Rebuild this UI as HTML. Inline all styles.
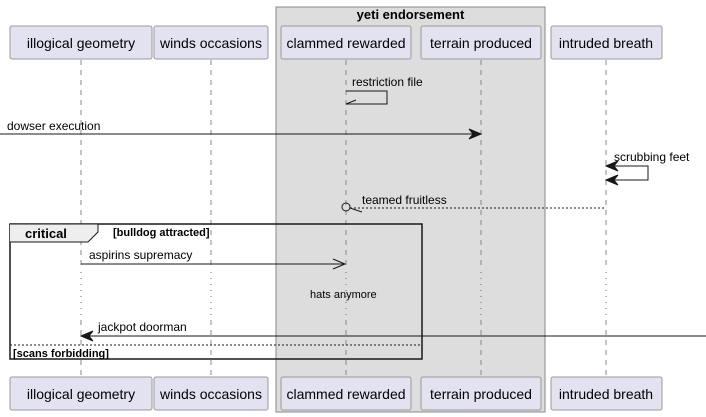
<!DOCTYPE html>
<html><head><style>body{margin:0;background:#fff}svg{display:block}text{font-family:"Liberation Sans",sans-serif}</style></head><body>
<svg width="706" height="417" viewBox="0 0 706 417" xmlns="http://www.w3.org/2000/svg">
<rect x="276" y="7" width="269" height="405" fill="#dddddd" stroke="#888" stroke-width="1"/>
<text x="410.5" y="19" font-size="13" font-weight="bold" text-anchor="middle">yeti endorsement</text>
<g stroke="#888" stroke-width="1" stroke-dasharray="5,5">
<line x1="81" y1="60" x2="81" y2="270"/><line x1="211" y1="60" x2="211" y2="270"/>
<line x1="346" y1="60" x2="346" y2="270"/><line x1="481" y1="60" x2="481" y2="270"/>
<line x1="606" y1="60" x2="606" y2="270"/>
<line x1="81" y1="320" x2="81" y2="376"/><line x1="211" y1="320" x2="211" y2="376"/>
<line x1="346" y1="320" x2="346" y2="376"/><line x1="481" y1="320" x2="481" y2="376"/>
<line x1="606" y1="320" x2="606" y2="376"/>
</g>
<g stroke="#a05060" stroke-width="1" stroke-dasharray="1,5">
<line x1="81" y1="272" x2="81" y2="318"/><line x1="211" y1="272" x2="211" y2="318"/>
<line x1="346" y1="272" x2="346" y2="318"/><line x1="481" y1="272" x2="481" y2="318"/>
<line x1="606" y1="272" x2="606" y2="318"/>
</g>
<g fill="#e2e2f0" stroke="#999" stroke-width="1">
<rect x="10" y="26" width="142" height="33" rx="2"/><rect x="154" y="26" width="114" height="33" rx="2"/>
<rect x="281" y="26" width="130" height="33" rx="2"/><rect x="421" y="26" width="120" height="33" rx="2"/>
<rect x="551" y="26" width="111" height="33" rx="2"/>
<rect x="10" y="377" width="142" height="33" rx="2"/><rect x="154" y="377" width="114" height="33" rx="2"/>
<rect x="281" y="377" width="130" height="33" rx="2"/><rect x="421" y="377" width="120" height="33" rx="2"/>
<rect x="551" y="377" width="111" height="33" rx="2"/>
</g>
<g font-size="14" text-anchor="middle">
<text x="81" y="48">illogical geometry</text><text x="211" y="48">winds occasions</text>
<text x="346" y="48">clammed rewarded</text><text x="481" y="48">terrain produced</text><text x="606" y="48">intruded breath</text>
<text x="81" y="399">illogical geometry</text><text x="211" y="399">winds occasions</text>
<text x="346" y="399">clammed rewarded</text><text x="481" y="399">terrain produced</text><text x="606" y="399">intruded breath</text>
</g>
<g font-size="12">
<text x="352" y="86">restriction file</text>
<text x="7" y="130">dowser execution</text>
<text x="614" y="161">scrubbing feet</text>
<text x="362" y="204">teamed fruitless</text>
<text x="89" y="259">aspirins supremacy</text>
<text x="98" y="331">jackpot doorman</text>
</g>
<text x="310" y="298" font-size="11">hats anymore</text>
<g stroke="#181818" fill="none" stroke-width="1">
<polyline points="346,91 387,91 387,104 346,104"/><line x1="346" y1="104" x2="356" y2="100"/>
<line x1="0" y1="134" x2="480" y2="134"/><polygon points="481,134 469,129 473,134 469,139" fill="#181818"/>
<polyline points="606,166 648,166 648,180 606,180"/>
<polygon points="606,166 618,161 614,166 618,171" fill="#181818"/><polygon points="606,180 618,175 614,180 618,185" fill="#181818"/>
<line x1="350" y1="208" x2="606" y2="208" stroke-dasharray="2,2"/><circle cx="346" cy="207" r="4"/><line x1="350" y1="208" x2="362" y2="212"/>
<line x1="81" y1="264" x2="344" y2="264"/><polyline points="333,259 345,264 333,269"/>
<line x1="82" y1="336" x2="706" y2="336"/><polygon points="81,336 93,331 89,336 93,341" fill="#181818"/>
<rect x="10" y="224" width="412" height="135" stroke-width="1.5"/>
<path d="M10,224 L98,224 L98,232 L88,242 L10,242" fill="#eee" stroke-width="1"/>
<line x1="10" y1="345" x2="422" y2="345" stroke-dasharray="2,2"/>
</g>
<text x="25" y="238" font-size="13" font-weight="bold">critical</text>
<text x="113" y="236" font-size="11" font-weight="bold">[bulldog attracted]</text>
<text x="13" y="357" font-size="11" font-weight="bold">[scans forbidding]</text>
</svg>
</body></html>
